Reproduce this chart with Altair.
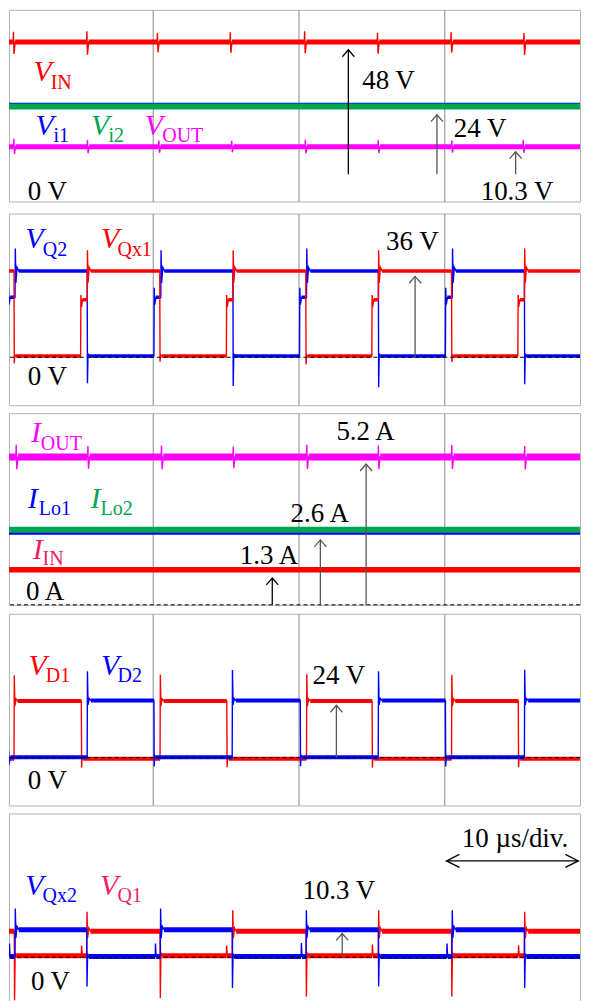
import altair as alt
import pandas as pd

T0, T_END = 0.137, 39.315  # visible time window (us); 10 us per division

# ---------------- Panel 1 : V_IN, V_i1, V_i2, V_OUT (10 V/div) ----------------
P1_VIN = 48.3
P1_VIN_SPK_T = [0.42, 5.46, 10.30, 15.30, 20.40, 25.40, 30.45, 35.45]
P1_VIN_SPK_HI = [52.0, 52.2, 51.5, 51.8, 52.2, 51.6, 51.8, 51.5]
P1_VIN_SPK_LO = [43.9, 43.6, 44.5, 44.3, 44.2, 44.0, 44.4, 43.5]
P1_VI1 = 25.7
P1_VI2 = 24.7
P1_VOUT = 10.0
P1_VOUT_SPK_T = [0.45, 5.50, 10.40, 15.40, 20.45, 25.45, 30.50, 35.40]
P1_VOUT_SPK_HI = [12.9, 12.5, 12.3, 12.2, 12.6, 12.4, 12.3, 12.5]
P1_VOUT_SPK_LO = [7.4, 7.6, 7.8, 8.0, 7.6, 7.7, 7.9, 7.8]

# ---------------- Panel 2 : V_Q2, V_Qx1 (10 V/div) ----------------
P2_VQ2_INIT = 0.5
P2_VQ2_T = [0.08, 0.55, 5.50, 10.08, 10.55, 15.50, 20.07, 20.55, 25.48, 30.08, 30.55, 35.50]
P2_VQ2_V = [
    [29, 22, 25], [45.4, 31, 37.5, 36], [-10.8, 1.5, 0.5],
    [29, 22, 25], [44.7, 31, 37.5, 36], [-12.0, 1.5, 0.5],
    [29, 22, 25], [45.4, 31, 37.5, 36], [-12.5, 1.5, 0.5],
    [29, 22, 25], [45.4, 31, 37.5, 36], [-11.3, 1.5, 0.5],
]
P2_VQX1_INIT = 36.0
P2_VQX1_T = [0.48, 5.05, 5.50, 10.48, 15.05, 15.50, 20.50, 25.03, 25.48, 30.50, 35.05, 35.50]
P2_VQX1_V = [
    [-2.5, 1.0, 0.5], [26, 21, 24], [44.7, 31, 37.5, 36],
    [-1.8, 1.0, 0.5], [26, 21, 24], [44.7, 31, 37.5, 36],
    [-3.0, 1.0, 0.5], [26, 21, 24], [44.7, 31, 37.5, 36],
    [-2.0, 1.0, 0.5], [26, 21, 24], [45.4, 31, 37.5, 36],
]

# ---------------- Panel 3 : I_OUT, I_Lo1, I_Lo2, I_IN (1 A/div) ----------------
P3_IOUT = 5.4
P3_IOUT_SPK_T = [0.61, 5.53, 10.58, 15.50, 20.55, 25.46, 30.50, 35.50]
P3_IOUT_SPK_HI = [5.85, 5.80, 5.82, 5.78, 5.85, 5.82, 5.84, 5.80]
P3_IOUT_SPK_LO = [4.95, 4.97, 4.95, 5.00, 4.96, 4.95, 4.96, 4.95]
P3_ILO1 = 2.61
P3_ILO2 = 2.74
P3_IIN = 1.28

# ---------------- Panel 4 : V_D1, V_D2 (10 V/div) ----------------
P4_VD1_INIT = -0.5
P4_VD1_T = [0.48, 5.10, 10.50, 15.08, 20.55, 25.05, 30.50, 35.08]
P4_VD1_V = [
    [34.4, 21.5, 24.5, 23.6], [-4.1, 0.8, -0.5],
    [34.6, 21.5, 24.5, 23.6], [-4.0, 0.8, -0.5],
    [34.8, 21.5, 24.5, 23.6], [-4.2, 0.8, -0.5],
    [34.6, 21.5, 24.5, 23.6], [-4.0, 0.8, -0.5],
]
P4_VD2_INIT = 0.1
P4_VD2_T = [0.08, 5.50, 10.08, 15.45, 20.12, 25.47, 30.08, 35.50]
P4_VD2_V = [
    [3.4, -3.0, 0.1], [36.0, 22.0, 24.6, 23.8],
    [-3.7, 0.9, 0.1], [36.5, 22.0, 24.6, 23.8],
    [-3.6, 0.9, 0.1], [36.0, 22.0, 24.6, 23.8],
    [-3.7, 0.9, 0.1], [36.6, 22.0, 24.6, 23.8],
]

# ---------------- Panel 5 : V_Qx2, V_Q1 (10 V/div) ----------------
P5_VQX2_INIT = 0.3
P5_VQX2_T = [0.15, 0.55, 5.47, 10.17, 10.52, 15.45, 20.18, 20.52, 25.48, 30.17, 30.53, 35.50]
P5_VQX2_V = [
    [5.7, 0.3], [20.3, 8.0, 12.8, 11.5], [-12.2, 1.5, 0.3],
    [5.7, 0.3], [20.3, 8.0, 12.8, 11.5], [-12.9, 1.5, 0.3],
    [5.9, 0.3], [19.6, 8.0, 12.8, 11.5], [-12.2, 1.5, 0.3],
    [5.7, 0.3], [19.6, 8.0, 12.8, 11.5], [-12.9, 1.5, 0.3],
]
P5_VQ1_INIT = 10.8
P5_VQ1_T = [0.50, 5.10, 5.47, 10.50, 15.05, 15.47, 20.52, 25.05, 25.48, 30.50, 35.08, 35.50]
P5_VQ1_V = [
    [-18.0, 2.0, 0.6], [4.9, 0.6], [19.0, 8.0, 12.2, 10.8],
    [-17.0, 2.0, 0.6], [4.9, 0.6], [19.6, 8.0, 12.2, 10.8],
    [-16.4, 2.0, 0.6], [5.3, 0.6], [19.6, 8.0, 12.2, 10.8],
    [-16.4, 2.0, 0.6], [5.0, 0.6], [19.0, 8.0, 12.2, 10.8],
]

# ---------------- Text labels (time in us, value in panel units) ----------------
P1_MAIN_T = [1.81, 1.95, 5.77, 9.45]
P1_MAIN_V = [34.1, 14.3, 14.3, 14.3]
P1_MAIN_TXT = ["V", "V", "V", "V"]
P1_SUB_T = [3.00, 3.19, 6.96, 10.65]
P1_SUB_V = [31.2, 11.9, 11.9, 11.9]
P1_SUB_TXT = ["IN", "i1", "i2", "OUT"]
P1_VAL_T = [1.43, 24.37, 30.65, 32.50]
P1_VAL_V = [-9.5, 31.2, 13.7, -9.6]
P1_VAL_TXT = ["0 V", "48 V", "24 V", "10.3 V"]

P2_MAIN_T = [1.26, 6.45]
P2_MAIN_V = [45.4, 45.4]
P2_MAIN_TXT = ["V", "V"]
P2_SUB_T = [2.46, 7.58]
P2_SUB_V = [42.1, 42.1]
P2_SUB_TXT = ["Q2", "Qx1"]
P2_VAL_T = [1.43, 26.0]
P2_VAL_V = [-11.5, 44.6]
P2_VAL_TXT = ["0 V", "36 V"]

P3_MAIN_T = [1.64, 1.43, 5.73, 1.77]
P3_MAIN_V = [5.94, 3.54, 3.54, 1.68]
P3_MAIN_TXT = ["I", "I", "I", "I"]
P3_SUB_T = [2.32, 2.18, 6.42, 2.44]
P3_SUB_V = [5.65, 3.28, 3.28, 1.46]
P3_SUB_TXT = ["OUT", "Lo1", "Lo2", "IN"]
P3_VAL_T = [1.30, 22.60, 19.45, 15.97]
P3_VAL_V = [0.18, 6.02, 3.03, 1.49]
P3_VAL_TXT = ["0 A", "5.2 A", "2.6 A", "1.3 A"]

P4_MAIN_T = [1.47, 6.45]
P4_MAIN_V = [34.6, 34.6]
P4_MAIN_TXT = ["V", "V"]
P4_SUB_T = [2.66, 7.58]
P4_SUB_V = [31.7, 31.7]
P4_SUB_TXT = ["D1", "D2"]
P4_VAL_T = [1.43, 20.96]
P4_VAL_V = [-13.3, 30.8]
P4_VAL_TXT = ["0 V", "24 V"]

P5_MAIN_T = [1.26, 6.38]
P5_MAIN_V = [26.1, 26.1]
P5_MAIN_TXT = ["V", "V"]
P5_SUB_T = [2.44, 7.58]
P5_SUB_V = [23.2, 23.2]
P5_SUB_TXT = ["Qx2", "Q1"]
P5_VAL_T = [1.64, 20.27, 31.2]
P5_VAL_V = [-13.75, 24.2, 46.1]
P5_VAL_TXT = ["0 V", "10.3 V", "10 \u00b5s/div."]

# ---------------- Measurement arrows (t, from, to) ----------------
P1_ARR_T = [23.42, 29.5, 34.9]
P1_ARR_V0 = [0, 0, 0]
P1_ARR_V1 = [45.4, 21.7, 8.2]
P2_ARR_T = [28.0]
P2_ARR_V0 = [0]
P2_ARR_V1 = [33.75]
P3_ARR_T = [18.2, 21.5, 24.64]
P3_ARR_V0 = [0, 0, 0]
P3_ARR_V1 = [0.98, 2.37, 5.14]
P4_ARR_T = [22.6]
P4_ARR_V0 = [0]
P4_ARR_V1 = [21.8]
P5_ARR_T = [23.0]
P5_ARR_V0 = [0]
P5_ARR_V1 = [9.9]
P5_DIV_T0, P5_DIV_T1, P5_DIV_V = 30.15, 39.2, 40.2

# ================= styles =================
RED = "#ff0000"
BLUE = "#0000ff"
GREEN = "#00a651"
MAGENTA = "#ff00ff"
CRIMSON = "#ee1f66"
BLACK = "#000000"
GRAY = "#555555"
FONT = "Liberation Serif"
OFFS = [0.02, 0.06, 0.14, 0.26, 0.40]
W, H = 572, 192
XSCALE = alt.Scale(domain=[T0, T_END], nice=False, zero=False)


def build(init, times, values):
    pts = [(0.0, init)]
    bands = []
    cur, start = init, 0.0
    for te, vals in zip(times, values):
        pts.append((te, cur))
        bands.append((start, te, cur))
        for off, v in zip(OFFS, vals):
            pts.append((te + off, v))
        cur = vals[-1]
        start = te + OFFS[len(vals) - 1]
    pts.append((40.0, cur))
    bands.append((start, 40.0, cur))
    line = pd.DataFrame(pts, columns=["t", "v"])
    line["i"] = range(len(line))
    band = pd.DataFrame(bands, columns=["t", "t2", "v"])
    return line, band


def flat(level, spk_t=(), hi=(), lo=()):
    return build(level, list(spk_t), [[h, l, level] for h, l in zip(hi, lo)])


def panel(domain, grid_vals, traces, main, sub, val, main_colors, sub_colors,
          arrows, arrow_colors, dashed=True, extra=None):
    x = alt.X("t:Q", scale=XSCALE,
              axis=alt.Axis(values=[10, 20, 30], grid=True, gridColor="#9c9c9c",
                            gridWidth=1.2, labels=False, ticks=False, domain=False, title=None))
    ysc = alt.Scale(domain=domain, nice=False, zero=False)
    y = alt.Y("v:Q", scale=ysc,
              axis=alt.Axis(values=grid_vals, grid=True, gridColor="#c8c8c8", gridWidth=1,
                            labels=False, ticks=False, domain=False, title=None))
    layers = []
    for (line, band), color, bw in traces:
        layers.append(alt.Chart(band).mark_rule(clip=True, strokeCap="butt", color=color,
                                                 strokeWidth=bw).encode(x=x, x2="t2:Q", y=y))
        layers.append(alt.Chart(line).mark_line(clip=True, color=color, strokeWidth=1.4)
                      .encode(x=x, y=y, order="i:Q"))
    if dashed:
        layers.append(alt.Chart(pd.DataFrame({"v": [0.0]})).mark_rule(
            color=BLACK, strokeWidth=1, strokeDash=[4, 3]).encode(y=y))
    at, av0, av1 = arrows
    adf = pd.DataFrame({"t": at, "v": av0, "v1": av1, "c": arrow_colors})
    layers.append(alt.Chart(adf).mark_rule(strokeWidth=1.3).encode(
        x=x, y=y, y2="v1:Q", color=alt.Color("c:N", scale=None)))
    layers.append(alt.Chart(adf).mark_point(shape="M-1,1.15L0,0L1,1.15", filled=False, size=144,
                                            strokeWidth=1.3, opacity=1).encode(
        x=x, y=alt.Y("v1:Q", scale=ysc, axis=None),
        color=alt.Color("c:N", scale=None)))
    if extra is not None:
        layers.extend(extra(x, y))
    mt, mv, mtxt = main
    layers.append(alt.Chart(pd.DataFrame({"t": mt, "v": mv, "s": mtxt, "c": main_colors}))
                  .mark_text(font=FONT, fontSize=30, fontStyle="italic", align="left",
                             baseline="alphabetic")
                  .encode(x=x, y=y, text="s:N", color=alt.Color("c:N", scale=None)))
    st, sv, stxt = sub
    layers.append(alt.Chart(pd.DataFrame({"t": st, "v": sv, "s": stxt, "c": sub_colors}))
                  .mark_text(font=FONT, fontSize=20, align="left", baseline="alphabetic")
                  .encode(x=x, y=y, text="s:N", color=alt.Color("c:N", scale=None)))
    vt, vv, vtxt = val
    layers.append(alt.Chart(pd.DataFrame({"t": vt, "v": vv, "s": vtxt}))
                  .mark_text(font=FONT, fontSize=27, align="left", baseline="alphabetic", color=BLACK)
                  .encode(x=x, y=y, text="s:N"))
    return alt.layer(*layers).properties(width=W, height=H)


V10 = list(range(-10, 51, 10))

p1 = panel(
    [-10, 60], list(range(0, 51, 10)),
    [
        (flat(P1_VIN, P1_VIN_SPK_T, P1_VIN_SPK_HI, P1_VIN_SPK_LO), RED, 5),
        (flat(P1_VI1), BLUE, 2),
        (flat(P1_VI2), GREEN, 6),
        (flat(P1_VOUT, P1_VOUT_SPK_T, P1_VOUT_SPK_HI, P1_VOUT_SPK_LO), MAGENTA, 5),
    ],
    (P1_MAIN_T, P1_MAIN_V, P1_MAIN_TXT), (P1_SUB_T, P1_SUB_V, P1_SUB_TXT),
    (P1_VAL_T, P1_VAL_V, P1_VAL_TXT),
    [RED, BLUE, GREEN, MAGENTA], [RED, BLUE, GREEN, MAGENTA],
    (P1_ARR_T, P1_ARR_V0, P1_ARR_V1), [BLACK, GRAY, GRAY], dashed=False)

p2 = panel(
    [-20, 60], V10,
    [
        (build(P2_VQ2_INIT, P2_VQ2_T, P2_VQ2_V), BLUE, 3.5),
        (build(P2_VQX1_INIT, P2_VQX1_T, P2_VQX1_V), RED, 3.5),
    ],
    (P2_MAIN_T, P2_MAIN_V, P2_MAIN_TXT), (P2_SUB_T, P2_SUB_V, P2_SUB_TXT),
    (P2_VAL_T, P2_VAL_V, P2_VAL_TXT),
    [BLUE, RED], [BLUE, RED],
    (P2_ARR_T, P2_ARR_V0, P2_ARR_V1), [GRAY])

p3 = panel(
    [0, 7], list(range(1, 7)),
    [
        (flat(P3_IOUT, P3_IOUT_SPK_T, P3_IOUT_SPK_HI, P3_IOUT_SPK_LO), MAGENTA, 7),
        (flat(P3_ILO1), BLUE, 3),
        (flat(P3_ILO2), GREEN, 6),
        (flat(P3_IIN), RED, 5.5),
    ],
    (P3_MAIN_T, P3_MAIN_V, P3_MAIN_TXT), (P3_SUB_T, P3_SUB_V, P3_SUB_TXT),
    (P3_VAL_T, P3_VAL_V, P3_VAL_TXT),
    [MAGENTA, BLUE, GREEN, CRIMSON], [MAGENTA, BLUE, GREEN, CRIMSON],
    (P3_ARR_T, P3_ARR_V0, P3_ARR_V1), [BLACK, GRAY, GRAY])

p4 = panel(
    [-20, 60], V10,
    [
        (build(P4_VD1_INIT, P4_VD1_T, P4_VD1_V), RED, 4),
        (build(P4_VD2_INIT, P4_VD2_T, P4_VD2_V), BLUE, 4),
    ],
    (P4_MAIN_T, P4_MAIN_V, P4_MAIN_TXT), (P4_SUB_T, P4_SUB_V, P4_SUB_TXT),
    (P4_VAL_T, P4_VAL_V, P4_VAL_TXT),
    [RED, BLUE], [RED, BLUE],
    (P4_ARR_T, P4_ARR_V0, P4_ARR_V1), [GRAY])


def div_arrow(x, y):
    d = pd.DataFrame({"t": [P5_DIV_T0], "t2": [P5_DIV_T1], "v": [P5_DIV_V]})
    rule = alt.Chart(d).mark_rule(color=BLACK, strokeWidth=1.3).encode(x=x, x2="t2:Q", y=y)
    left = alt.Chart(d).mark_point(shape="M2,-1L0,0L2,1", filled=False, size=169, strokeWidth=1.3,
                                   color=BLACK, opacity=1).encode(x=x, y=y)
    right = alt.Chart(d).mark_point(shape="M-2,-1L0,0L-2,1", filled=False, size=169, strokeWidth=1.3,
                                    color=BLACK, opacity=1).encode(
        x=alt.X("t2:Q", scale=XSCALE, axis=None), y=y)
    return [rule, left, right]


p5 = panel(
    [-20, 60], V10,
    [
        (build(P5_VQ1_INIT, P5_VQ1_T, P5_VQ1_V), RED, 5),
        (build(P5_VQX2_INIT, P5_VQX2_T, P5_VQX2_V), BLUE, 5),
    ],
    (P5_MAIN_T, P5_MAIN_V, P5_MAIN_TXT), (P5_SUB_T, P5_SUB_V, P5_SUB_TXT),
    (P5_VAL_T, P5_VAL_V, P5_VAL_TXT),
    [BLUE, CRIMSON], [BLUE, CRIMSON],
    (P5_ARR_T, P5_ARR_V0, P5_ARR_V1), [GRAY], extra=div_arrow)

chart = alt.VConcatChart(vconcat=[p1, p2, p3, p4, p5], spacing=6, padding=0).configure_view(
    stroke="#b4b4b4", strokeWidth=1)

chart.save("out.html", embed_options={"renderer": "svg", "actions": False})
